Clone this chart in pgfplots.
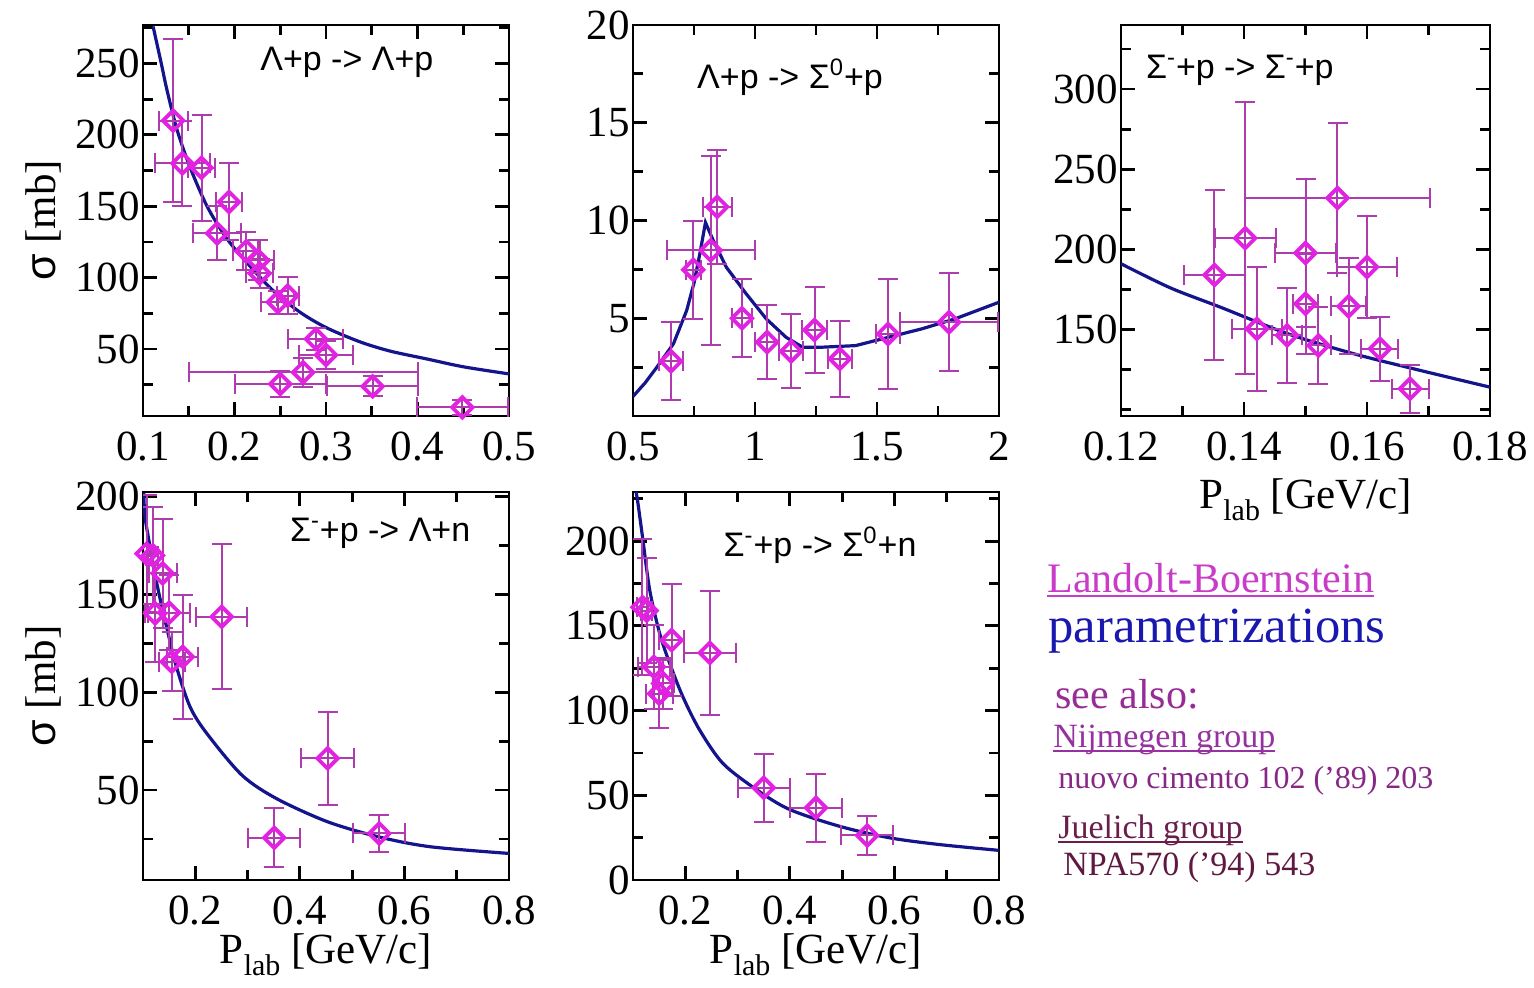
\documentclass[border=0pt]{standalone}
\usepackage{pgfplots}
\pgfplotsset{compat=1.18}
\usepackage{fontspec}
\setmainfont{Liberation Serif}
\newfontfamily\sansf{Liberation Sans}
\definecolor{mag}{RGB}{225,35,225}
\definecolor{ebar}{RGB}{175,60,175}
\definecolor{curvec}{RGB}{20,20,140}
\definecolor{lbcol}{RGB}{200,60,200}
\definecolor{parcol}{RGB}{25,25,175}
\definecolor{seecol}{RGB}{150,45,150}
\definecolor{nijcol}{RGB}{150,50,160}
\definecolor{nuocol}{RGB}{135,40,135}
\definecolor{juecol}{RGB}{105,30,75}
\definecolor{npacol}{RGB}{95,25,65}
\pgfplotsset{
  panel/.style={
    scale only axis, width=183pt, height=195.5pt, anchor=south west,
    axis line style={line width=1.4pt},
    every tick/.style={line width=1.4pt, black},
    major tick length=7pt, minor tick length=5pt,
    tick align=inside,
    ticklabel style={font=\fontsize{21.5}{24}\selectfont},
    xticklabel style={yshift=-4.5pt},
    yticklabel style={xshift=2pt},
    /pgf/number format/assume math mode=true,
    /pgf/number format/fixed,
    /pgf/number format/precision=2,
    label style={font=\fontsize{21.5}{24}\selectfont},
    xlabel style={yshift=-2pt},
  },
  datapts/.style={only marks, mark=square, mark size=3.6pt,
    mark options={rotate=45, draw=mag, fill=white, line width=1.9pt, solid},
    error bars/x dir=both, error bars/x explicit,
    error bars/y dir=both, error bars/y explicit,
    error bars/error bar style={ebar, line width=1pt},
    error bars/error mark options={rotate=90, ebar, mark size=5pt, line width=1pt}},
  curvest/.style={curvec, line width=1.6pt, no marks},
}
\newcommand{\plab}{P\raisebox{-6pt}{\fontsize{15}{15}\selectfont lab} [GeV/c]}
\newcommand{\lab}[1]{{\sansf\fontsize{17}{20}\selectfont #1}}
\newcommand{\sm}{\textsuperscript{-}}
\newcommand{\sz}{\textsuperscript{0}}
\newcommand{\ul}[1]{\setbox0\hbox{#1}\rlap{\rule[-2.5pt]{\wd0}{0.9pt}}\box0}
\begin{document}
\begin{tikzpicture}
\useasboundingbox (0,0) rectangle (767pt,493.5pt);
% Panel 1
\begin{axis}[panel, at={(71.5pt,285.5pt)},
  xmin=0.1, xmax=0.5, ymin=3, ymax=277,
  xtick={0.1,0.2,0.3,0.4,0.5}, minor xtick={0.15,0.25,0.35,0.45},
  ytick={50,100,150,200,250}, minor ytick={25,75,125,175,225,275},
  ylabel={{\sansf σ} [mb]}]
\addplot[curvest, smooth] table {
x y
0.111 276
0.12 250
0.126 232
0.137 204
0.151 178
0.170 150
0.192 127
0.217 108
0.242 91
0.271 76
0.30 65
0.337 55
0.37 48.5
0.41 43
0.45 37.5
0.5 32.5
};
\addplot[datapts] table[x=x, y=y, x error=ex, y error=ey] {
x y ex ey
0.133 210 0.016 57
0.143 180 0.030 30
0.164 177 0.015 37
0.194 153 0.014 27
0.181 131 0.026 19
0.213 118.6 0.015 13
0.226 112 0.017 14
0.2275 103 0.015 10
0.2475 82.8 0.018 8
0.258 87.4 0.012 13
0.289 57 0.030 8
0.300 45.8 0.030 10
0.275 33.6 0.125 10
0.250 25.5 0.050 9
0.351 23.8 0.050 7
0.449 9 0.050 5
};
\node at (rel axis cs:0.557,0.905) {\lab{Λ+p -> Λ+p}};
\end{axis}
% Panel 2
\begin{axis}[panel, at={(316.5pt,285.5pt)},
  xmin=0.5, xmax=2, ymin=0, ymax=20,
  xtick={0.5,1,1.5,2}, minor xtick={0.75,1.25,1.75},
  ytick={5,10,15,20}, minor ytick={2.5,7.5,12.5,17.5}]
\addplot[curvest] table {
x y
0.5 1.0
0.55 1.7
0.598 2.5
0.666 3.7
0.72 5.4
0.75 6.8
0.774 8.3
0.797 9.9
0.828 9.0
0.883 7.6
0.964 6.25
1.046 4.97
1.127 4.03
1.195 3.52
1.276 3.52
1.412 3.6
1.548 4.03
1.684 4.46
1.82 4.97
2.0 5.82
};
\addplot[datapts] table[x=x, y=y, x error=ex, y error=ey] {
x y ex ey
0.656 2.8 0.05 2.0
0.747 7.48 0.03 2.5
0.818 8.47 0.18 4.85
0.845 10.7 0.06 2.9
0.947 5.0 0.04 2.0
1.05 3.78 0.05 1.9
1.148 3.31 0.05 1.9
1.244 4.4 0.05 2.2
1.348 2.92 0.05 1.95
1.545 4.2 0.05 2.8
1.795 4.8 0.2 2.5
};
\node at (rel axis cs:0.429,0.867) {\lab{Λ+p -> Σ\sz+p}};
\end{axis}
% Panel 3
\begin{axis}[panel, at={(560.5pt,285.5pt)}, width=184.5pt,
  xmin=0.12, xmax=0.18, ymin=96, ymax=340,
  xtick={0.12,0.14,0.16,0.18}, minor xtick={0.13,0.15,0.17},
  ytick={150,200,250,300}, minor ytick={100,125,175,225,275,325},
  xlabel={\plab}]
\addplot[curvest, smooth] table {
x y
0.12 191
0.128 176
0.1361 164
0.147 147.5
0.1577 135
0.1686 124.5
0.18 114
};
\addplot[datapts] table[x=x, y=y, x error=ex, y error=ey] {
x y ex ey
0.1352 184 0.005 53
0.1402 207 0.005 85
0.1421 150.4 0.004 38.5
0.147 146.3 0.0025 29.7
0.150 197.7 0.0049 46
0.150 166 0.002 31
0.1521 140 0.002 24
0.1552 232 0.015 47
0.157 164.4 0.0028 30
0.160 189 0.0049 32
0.1621 138 0.003 20
0.167 113 0.003 15
};
\node at (rel axis cs:0.322,0.885) {\lab{Σ\sm+p -> Σ\sm+p}};
\end{axis}
% Panel 4
\begin{axis}[panel, at={(71.5pt,53.5pt)}, height=194pt,
  xmin=0.1, xmax=0.8, ymin=4, ymax=202.5,
  xtick={0.2,0.4,0.6,0.8}, minor xtick={0.3,0.5,0.7},
  ytick={50,100,150,200}, minor ytick={25,75,125,175},
  xlabel style={yshift=4.5pt},
  xlabel={\plab}, ylabel={{\sansf σ} [mb]}]
\addplot[curvest, smooth] table {
x y
0.1015 202
0.1038 190
0.1134 174.6
0.129 152.4
0.148 130.2
0.164 113
0.19 92.6
0.222 79
0.289 57.7
0.355 45.7
0.453 33.8
0.552 26
0.65 21
0.8 17.6
};
\addplot[datapts] table[x=x, y=y, x error=ex, y error=ey] {
x y ex ey
0.107 171 0.008 30
0.119 170 0.010 25
0.1376 160.9 0.027 28
0.123 140.4 0.020 25
0.150 140.8 0.040 19
0.155 115.7 0.025 15
0.176 118.2 0.030 31.6
0.2505 138.7 0.049 37
0.453 66.2 0.05 23.6
0.351 25.6 0.05 15
0.552 27.8 0.05 9.5
};
\node at (rel axis cs:0.648,0.894) {\lab{Σ\sm+p -> Λ+n}};
\end{axis}
% Panel 5
\begin{axis}[panel, at={(316.5pt,53.5pt)}, height=194pt,
  xmin=0.1, xmax=0.8, ymin=0, ymax=229,
  xtick={0.2,0.4,0.6,0.8}, minor xtick={0.3,0.5,0.7},
  ytick={0,50,100,150,200}, minor ytick={25,75,125,175,225},
  xlabel style={yshift=4.5pt},
  xlabel={\plab}]
\addplot[curvest, smooth] table {
x y
0.106 229
0.1096 222
0.119 200.6
0.132 171
0.151 145.5
0.170 128
0.1956 108
0.2275 88.5
0.272 68.8
0.336 53.4
0.399 41.7
0.494 31.8
0.589 25
0.684 21
0.8 17.5
};
\addplot[datapts] table[x=x, y=y, x error=ex, y error=ey] {
x y ex ey
0.118 161 0.010 40
0.126 159 0.010 31
0.140 125.8 0.030 25
0.150 110 0.026 20
0.158 116 0.020 15
0.174 141.6 0.024 33
0.247 134.1 0.050 36.5
0.35 54.4 0.05 20
0.45 42.6 0.05 20
0.548 26.3 0.05 11.5
};
\node at (rel axis cs:0.511,0.863) {\lab{Σ\sm+p -> Σ\sz+n}};
\end{axis}
% Text block
\node[anchor=base west, inner sep=0pt, text=lbcol, font=\fontsize{21}{24}\selectfont] at (523.5pt,197.5pt) {\ul{Landolt-Boernstein}};
\node[anchor=base west, inner sep=0pt, text=parcol, font=\fontsize{25.3}{28}\selectfont] at (524pt,172.5pt) {parametrizations};
\node[anchor=base west, inner sep=0pt, text=seecol, font=\fontsize{21}{24}\selectfont] at (527.5pt,139.5pt) {see also:};
\node[anchor=base west, inner sep=0pt, text=nijcol, font=\fontsize{17}{20}\selectfont] at (526.5pt,120pt) {\ul{Nijmegen group}};
\node[anchor=base west, inner sep=0pt, text=nuocol, font=\fontsize{16}{19}\selectfont] at (529pt,99.5pt) {nuovo cimento 102 (’89) 203};
\node[anchor=base west, inner sep=0pt, text=juecol, font=\fontsize{17}{20}\selectfont] at (529pt,74.5pt) {\ul{Juelich group}};
\node[anchor=base west, inner sep=0pt, text=npacol, font=\fontsize{17}{20}\selectfont] at (531.5pt,56pt) {NPA570 (’94) 543};
\end{tikzpicture}
\end{document}
